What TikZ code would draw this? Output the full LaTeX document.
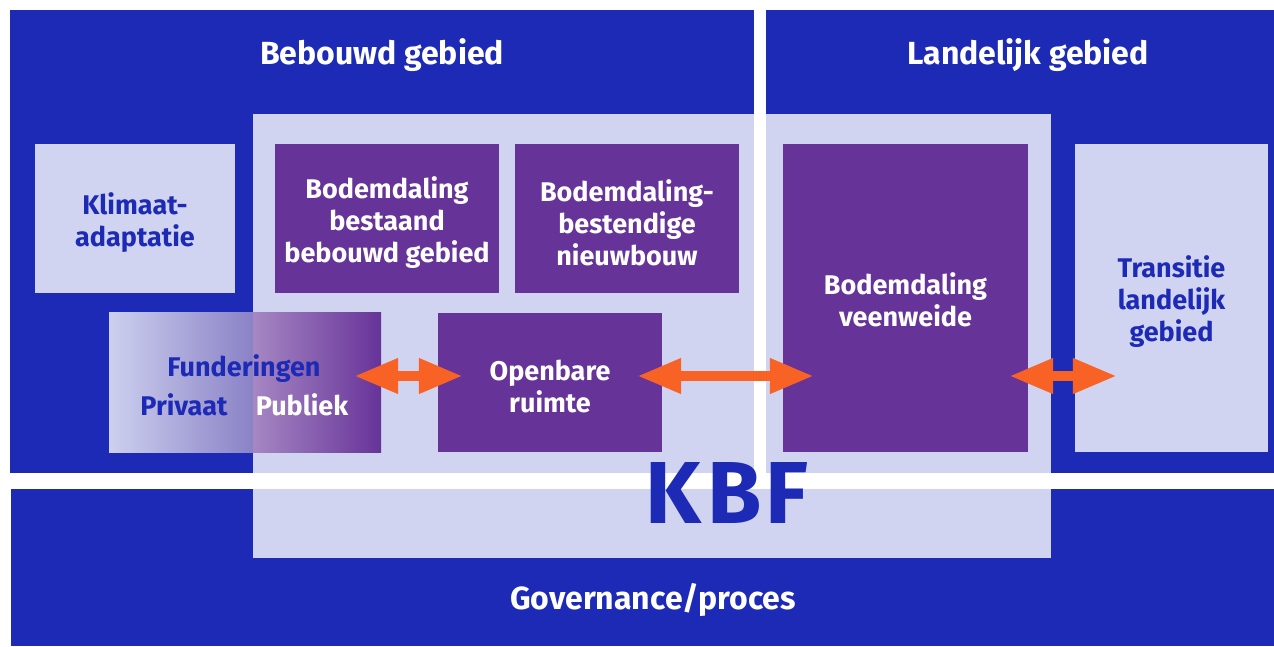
\documentclass[tikz,border=0pt]{standalone}
\usepackage{fontspec}
\setmainfont{Fira Sans}
\usetikzlibrary{arrows.meta,calc}
\definecolor{kblue}{HTML}{1C2AB5}
\definecolor{klight}{HTML}{D0D4F0}
\definecolor{kpurple}{HTML}{663399}
\definecolor{korange}{HTML}{F86225}
\definecolor{fadeA}{HTML}{CDD0EF}
\definecolor{fadeB}{HTML}{8A82C6}
\definecolor{fadeC}{HTML}{A687C3}
\tikzset{
  boxfont/.style={font=\fontsize{27}{32}\selectfont\bfseries},
  lightbox/.style={fill=klight, inner sep=0pt},
  purplebox/.style={fill=kpurple, inner sep=0pt},
  ltext/.style={text=kblue, boxfont, align=center, inner sep=0pt, yshift=-4pt},
  ptext/.style={text=white, boxfont, align=center, inner sep=0pt, yshift=-4pt},
  titletext/.style={text=white, font=\fontsize{32}{38}\selectfont\bfseries, anchor=base},
  fundtext/.style={boxfont, anchor=base, inner sep=0pt},
  dblarrow/.style={draw=korange, line width=10pt,
    {Triangle[length=44pt,width=33pt]}-{Triangle[length=44pt,width=33pt]}}
}
\begin{document}
\begin{tikzpicture}[x=1pt,y=-1pt]
\useasboundingbox (0,0) rectangle (1274,646);
\fill[white] (0,0) rectangle (1274,646);
% blue bands
\fill[kblue] (10,10) rectangle (754,473);
\fill[kblue] (766,10) rectangle (1274,473);
\fill[kblue] (11,489) rectangle (1274,646);
% KBF panel
\fill[klight] (253,114) rectangle (1051,558);
% white gaps
\fill[white] (754,0) rectangle (766,473);
\fill[white] (0,473) rectangle (1274,489);
% titles
\node[titletext] (tbeb) at (382,64) {Bebouwd gebied};
\node[titletext] (tlan) at (1028,64) {Landelijk gebied};
\node[titletext] (tgov) at (653,609) {Governance/proces};
% boxes
\node[lightbox, minimum width=200pt, minimum height=149pt,
  label={[ltext]center:{Klimaat-\\adaptatie}}] (klim) at (135,218.5) {};
\node[purplebox, minimum width=224pt, minimum height=149pt,
  label={[ptext]center:{Bodemdaling\\bestaand\\bebouwd gebied}}] (bbg) at (387,218.5) {};
\node[purplebox, minimum width=224pt, minimum height=149pt,
  label={[ptext]center:{Bodemdaling-\\bestendige\\nieuwbouw}}] (nieuw) at (627,218.5) {};
\node[purplebox, minimum width=245pt, minimum height=308pt,
  label={[ptext, yshift=2pt]center:{Bodemdaling\\veenweide}}] (veen) at (905.5,298) {};
\node[lightbox, minimum width=193pt, minimum height=308pt,
  label={[ltext]center:{Transitie\\landelijk\\gebied}}] (trans) at (1171.5,298) {};
\node[purplebox, minimum width=224pt, minimum height=139pt,
  label={[ptext]center:{Openbare\\ruimte}}] (open) at (550,382.5) {};
% Funderingen (gradient box)
\node[inner sep=0pt, minimum width=272pt, minimum height=140pt] (fund) at (245,382) {};
\shade[left color=fadeA, right color=fadeB] (109,312) rectangle (253,452);
\shade[left color=fadeC, right color=kpurple] (253,312) rectangle (381,452);
\node[fundtext, text=kblue] (fundt) at (244,376) {Funderingen};
\node[fundtext, text=kblue] (priv) at (184,415) {Privaat};
\node[fundtext, text=white] (publ) at (302,415) {Publiek};
% KBF label
\node[text=kblue, font=\fontsize{88}{90}\selectfont\bfseries, inner sep=0pt] (kbf) at (727,493) {K\kern6pt B\kern4pt F};
% arrows
\draw[dblarrow] ([xshift=-27pt,yshift=6pt]fund.east) -- ([xshift=25pt,yshift=6.5pt]open.west);
\draw[dblarrow] ([xshift=-25pt,yshift=6.5pt]open.east) -- ([xshift=31pt,yshift=-78pt]veen.west);
\draw[dblarrow] ([xshift=-19pt,yshift=-78pt]veen.east) -- ([xshift=42pt,yshift=-78pt]trans.west);
\end{tikzpicture}
\end{document}
